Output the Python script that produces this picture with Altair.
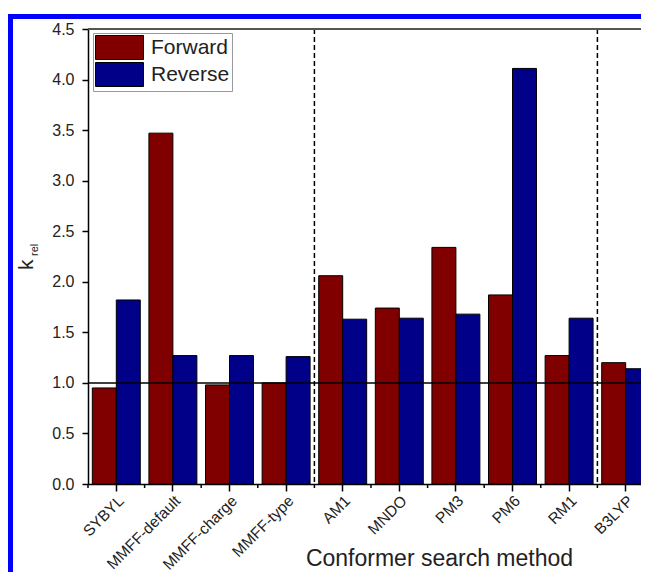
import altair as alt
import pandas as pd

methods = ["SYBYL", "MMFF-default", "MMFF-charge", "MMFF-type", "AM1",
           "MNDO", "PM3", "PM6", "RM1", "B3LYP"]
forward = [0.95, 3.47, 0.98, 1.00, 2.06, 1.74, 2.34, 1.87, 1.27, 1.20]
reverse = [1.82, 1.27, 1.27, 1.26, 1.63, 1.64, 1.68, 4.11, 1.64, 1.14]
series = ["Forward", "Reverse"]
colors = ["#800000", "#000088"]
divider_before = ["AM1", "B3LYP"]
ref_level = [1.0]
top_level = [4.5]
y_ticks = [i * 0.25 for i in range(19)]

rows = []
for m, f, r in zip(methods, forward, reverse):
    rows.append({"method": m, "series": "Forward", "value": f})
    rows.append({"method": m, "series": "Reverse", "value": r})
df = pd.DataFrame(rows)

W, H = 553, 455          # visible plot area (the original runs past the right edge)
XR = 566                 # full band range of the ten categories
FONT = "Liberation Sans"
xscale = alt.Scale(domain=methods, paddingInner=0, paddingOuter=0, range=[0, XR])
yscale = alt.Scale(domain=[0, 4.5], nice=False, zero=True)

bars = alt.Chart(df).mark_bar(stroke="black", strokeWidth=1).encode(
    x=alt.X("method:N", scale=xscale, sort=methods,
            axis=alt.Axis(title="Conformer search method", labelAngle=-45,
                          labelFont=FONT, labelFontSize=15.5, labelColor="#222",
                          titleFont=FONT, titleFontSize=23, titleFontWeight="normal",
                          titleColor="#222", titleX=351, titleY=81, titleAlign="center",
                          titleBaseline="alphabetic",
                          tickSize=7, tickColor="black", tickWidth=1.5,
                          domainColor="black", domainWidth=1.5, labelPadding=2)),
    xOffset=alt.XOffset("series:N", scale=alt.Scale(domain=series, paddingOuter=0.18,
                                                     paddingInner=0)),
    y=alt.Y("value:Q", scale=yscale,
            axis=alt.Axis(title=None, values=y_ticks,
                          labelExpr="datum.value % 0.5 === 0 ? format(datum.value, '.1f') : ''",
                          tickSize={"condition": {"test": "datum.value % 0.5 === 0", "value": 6},
                                    "value": 3},
                          labelFont=FONT, labelFontSize=16, labelColor="#222",
                          tickColor="black", tickWidth=1.5, domainColor="black",
                          domainWidth=1.5, labelPadding=8, grid=False)),
    color=alt.Color("series:N", scale=alt.Scale(domain=series, range=colors),
                    legend=alt.Legend(title=None, orient="none", legendX=5, legendY=4,
                                      symbolType="M-2,-1H2V1H-2Z", symbolSize=576,
                                      symbolOffset=12,
                                      symbolStrokeColor="black", symbolStrokeWidth=1,
                                      symbolOpacity=1,
                                      labelFont=FONT, labelFontSize=21, labelColor="#222",
                                      strokeColor="#999", fillColor="white", padding=2,
                                      rowPadding=-3, labelOffset=19)),
)

minor_x = alt.Chart(pd.DataFrame({"method": methods})).mark_rule(
    color="black", strokeWidth=1.5).encode(
    x=alt.X("method:N", bandPosition=0, sort=methods),
    y=alt.value(H), y2=alt.value(H + 4))

dividers = alt.Chart(pd.DataFrame({"method": divider_before})).mark_rule(
    color="black", strokeWidth=1.5, strokeDash=[5, 3]).encode(
    x=alt.X("method:N", bandPosition=0, sort=methods))

ref_line = alt.Chart(pd.DataFrame({"value": ref_level})).mark_rule(
    color="black", strokeWidth=1.5).encode(
    y="value:Q", x=alt.value(0), x2=alt.value(XR))

top_line = alt.Chart(pd.DataFrame({"value": top_level})).mark_rule(
    color="#555", strokeWidth=2).encode(
    y="value:Q", x=alt.value(0), x2=alt.value(XR))

one = pd.DataFrame({"a": [0]})
frame_left = alt.Chart(one).mark_rule(color="#0000ff", strokeWidth=5).encode(
    x=alt.value(-77.5), y=alt.value(-15), y2=alt.value(620))
frame_top = alt.Chart(one).mark_rule(color="#0000ff", strokeWidth=5).encode(
    y=alt.value(-12.5), x=alt.value(-80), x2=alt.value(700))

k_title = alt.Chart(one).mark_text(text="k", angle=270, align="left", baseline="alphabetic",
                                   font=FONT, fontSize=21, color="#222").encode(
    x=alt.value(-55), y=alt.value(241))
rel_title = alt.Chart(one).mark_text(text="rel", angle=270, align="left",
                                     baseline="alphabetic", font=FONT, fontSize=11,
                                     color="#222").encode(
    x=alt.value(-50), y=alt.value(227))

chart = alt.layer(bars, minor_x, dividers, ref_line, top_line, frame_left, frame_top,
                  k_title, rel_title).properties(
    width=W, height=H,
    autosize=alt.AutoSizeParams(type="none"),
    padding={"left": 80, "top": 21, "right": 0, "bottom": 88},
).configure_view(stroke=None)

chart.save("out.html", embed_options={"renderer": "svg", "actions": False})
